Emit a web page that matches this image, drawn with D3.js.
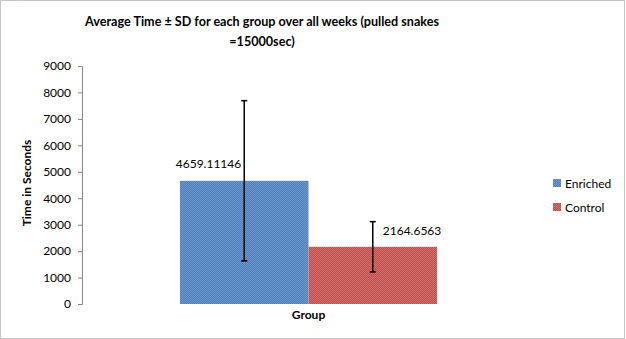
<!DOCTYPE html>
<html>
<head>
<meta charset="utf-8">
<script src="https://cdn.jsdelivr.net/npm/d3@7"></script>
<style>
  html, body { margin: 0; padding: 0; background: #fff; }
  svg { display: block; }
  text { font-family: Lato, "Open Sans", sans-serif; fill: #000; }
</style>
</head>
<body>
<svg id="chart" width="626" height="339"></svg>
<script>
// Average time per group and its standard deviation
const groups = ["Enriched", "Control"];
const means = [4659.11146, 2164.6563];
const sds = [3030, 950];
const valueLabels = ["4659.11146", "2164.6563"];
const yTicks = [0, 1000, 2000, 3000, 4000, 5000, 6000, 7000, 8000, 9000];
const colors = ["#4F81BD", "#C0504D"];
const dotColors = ["#6a96cc", "#d26d6a"];
const titleLines = ["Average Time \u00B1 SD for each group over all weeks (pulled snakes", "=15000sec)"];

const svg = d3.select("#chart");

// Outer chart frame
svg.append("rect")
  .attr("x", 0.5).attr("y", 0.5).attr("width", 624).attr("height", 338)
  .attr("fill", "#fff").attr("stroke", "#8c8c8c").attr("stroke-width", 1)
  .attr("stroke-dasharray", "1,1");

// Dithered fills for the bars
const defs = svg.append("defs");
groups.forEach((g, i) => {
  const p = defs.append("pattern").attr("id", "fill" + i)
    .attr("width", 2).attr("height", 2).attr("patternUnits", "userSpaceOnUse");
  p.append("rect").attr("width", 2).attr("height", 2).attr("fill", colors[i]);
  p.append("rect").attr("width", 1).attr("height", 1).attr("fill", dotColors[i]);
  p.append("rect").attr("x", 1).attr("y", 1).attr("width", 1).attr("height", 1).attr("fill", dotColors[i]);
});

const plot = { left: 82, right: 535, top: 66, bottom: 304 };

const y = d3.scaleLinear().domain([0, 9000]).range([plot.bottom, plot.top]);
const x = d3.scaleBand().domain(["Group"]).range([plot.left, plot.right]).paddingInner(0).paddingOuter(0.381);
const xs = d3.scaleBand().domain(groups).range([0, x.bandwidth()]);

// Title
const title = svg.append("text")
  .attr("text-anchor", "middle")
  .style("font-weight", "bold").style("font-size", "12.6px");
titleLines.forEach((t, i) => {
  title.append("tspan").attr("x", 262).attr("y", 26 + i * 20).text(t);
});

// Y axis
const yAxis = svg.append("g")
  .attr("transform", `translate(${plot.left},0)`)
  .call(d3.axisLeft(y).tickValues(yTicks).tickSize(4).tickPadding(7).tickFormat(d3.format("d")));
yAxis.select(".domain").attr("stroke", "#868686").attr("d", `M-4,${plot.top + 0.5}H0.5V${plot.bottom + 0.5}H-4`);
yAxis.selectAll(".tick line").attr("stroke", "#868686");
yAxis.selectAll(".tick text").style("font-size", "12px").style("font-family", "Lato, sans-serif").attr("fill", "#000");

// Y axis title
svg.append("text")
  .attr("transform", `translate(31,${(plot.top + plot.bottom) / 2 - 2}) rotate(-90)`)
  .attr("text-anchor", "middle")
  .style("font-weight", "bold").style("font-size", "12px")
  .text("Time in Seconds");

// X axis title
svg.append("text")
  .attr("x", x("Group") + x.bandwidth() / 2).attr("y", 319)
  .attr("text-anchor", "middle")
  .style("font-weight", "bold").style("font-size", "12px")
  .text("Group");

// Bars
const g = svg.append("g").attr("transform", `translate(${x("Group")},0)`);
g.selectAll("rect.bar").data(groups).join("rect")
  .attr("class", "bar")
  .attr("x", d => xs(d))
  .attr("width", xs.bandwidth())
  .attr("y", (d, i) => y(means[i]))
  .attr("height", (d, i) => y(0) - y(means[i]))
  .attr("fill", (d, i) => `url(#fill${i})`);

// Error bars
const cx = d => xs(d) + xs.bandwidth() / 2;
const err = g.selectAll("g.err").data(groups).join("g").attr("class", "err");
err.append("line")
  .attr("x1", cx).attr("x2", cx)
  .attr("y1", (d, i) => y(means[i] + sds[i]))
  .attr("y2", (d, i) => y(means[i] - sds[i]))
  .attr("stroke", "#000").attr("stroke-width", 1.5);
[1, -1].forEach(s => {
  err.append("line")
    .attr("x1", d => cx(d) - 3).attr("x2", d => cx(d) + 3)
    .attr("y1", (d, i) => y(means[i] + s * sds[i]))
    .attr("y2", (d, i) => y(means[i] + s * sds[i]))
    .attr("stroke", "#000").attr("stroke-width", 1.5);
});

// Value labels
g.selectAll("text.val").data(groups).join("text")
  .attr("class", "val")
  .attr("x", (d, i) => i === 0 ? cx(d) - 3 : cx(d) + 10)
  .attr("y", (d, i) => y(means[i]) - (i === 0 ? 13 : 12))
  .attr("text-anchor", (d, i) => i === 0 ? "end" : "start")
  .style("font-size", "12px")
  .attr("fill", "#000")
  .text((d, i) => valueLabels[i]);

// Legend
const legend = svg.append("g").attr("transform", "translate(553,179)");
const li = legend.selectAll("g").data(groups).join("g")
  .attr("transform", (d, i) => `translate(0,${i * 24})`);
li.append("rect").attr("width", 8).attr("height", 8)
  .attr("fill", (d, i) => `url(#fill${i})`);
li.append("text").attr("x", 12).attr("y", 8.5)
  .style("font-size", "12px").text(d => d);
</script>
</body>
</html>
